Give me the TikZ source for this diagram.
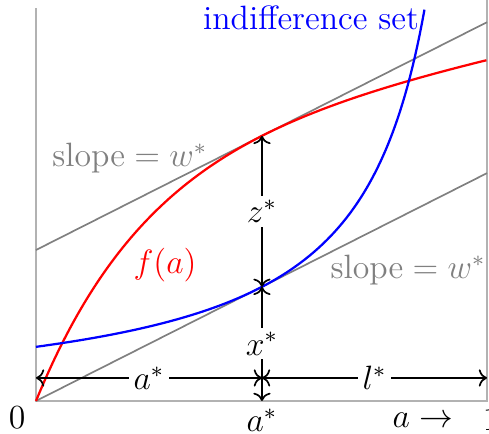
\documentclass[tikz,border=0pt]{standalone}
\usepackage{amsmath}
\usetikzlibrary{arrows.meta,positioning,calc}

\begin{document}
\begin{tikzpicture}[
    x=5.6375cm,
    y=5.6375cm,
    >=To,
    font=\large,
    frame/.style={
        draw=gray!60,
        line width=0.7pt
    },
    tangent/.style={
        draw=gray,
        line width=0.6pt
    },
    curve/.style={
        line width=0.8pt
    },
    arr/.style={<->, line width=0.6pt},
    lab/.style={fill=white, inner sep=1.5pt},
    slopelab/.style={text=gray}
]

\pgfmathsetmacro{\xs}{0.501}
\pgfmathsetmacro{\fs}{0.56*(1-exp(-4*\xs))+0.206*\xs}
\pgfmathsetmacro{\gs}{-0.0177+0.1405/(1.02-\xs)}
\pgfmathsetmacro{\w}{\gs/\xs}

\useasboundingbox (-0.0798,-0.0732) rectangle (1.0044,0.889);

% points
\coordinate (O) at (0,0);
\coordinate (A) at (\xs,0);
\coordinate (X) at (\xs,\gs);
\coordinate (Z) at (\xs,\fs);
\coordinate (la) at (0,0.051);
\coordinate (lm) at (\xs,0.051);
\coordinate (lr) at (1,0.051);

% frame
\draw[frame] (0,0.871) -- (O) -- (1,0) -- (1,0.889);

% lines of slope w*
\draw[tangent] (0,{\fs-\w*\xs}) -- (1,{\fs+\w*(1-\xs)});
\draw[tangent] (O) -- (1,\w);

% curves
\draw[curve, red] plot[domain=0:1, samples=120]
    (\x, {0.56*(1-exp(-4*\x))+0.206*\x});
\draw[curve, blue] plot[domain=0:0.8624, samples=160]
    (\x, {-0.0177+0.1405/(1.02-\x)});

% arrows
\draw[arr] (la) -- node[lab] (astarlab) {$a^*$} (lm);
\draw[arr] (lm) -- node[lab] (lstarlab) {$l^*$} (lr);
\draw[arr] (A) -- node[lab] (xstarlab) {$x^*$} (X);
\draw[arr] (X) -- node[lab] (zstarlab) {$z^*$} (Z);

% labels
\node (zero) at (-0.042,-0.038) {$0$};
\node (astar) at (\xs,-0.042) {$a^*$};
\node (avar) at (0.858,-0.042) {$a\rightarrow$};
\node (one) at (1.009,-0.042) {$1$};
\node[red] (flab) at (0.286,0.302) {$f(a)$};
\node[slopelab] (slopeup) at (0.208,0.539) {slope${}=w^*$};
\node[slopelab] (slopedown) at (0.825,0.29) {slope${}=w^*$};
\node[blue] (indiff) at (0.61,0.849) {indifference set};

\end{tikzpicture}
\end{document}
